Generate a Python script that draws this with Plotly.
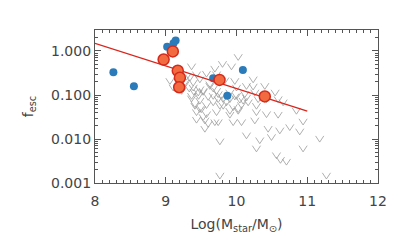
import plotly.graph_objects as go
import numpy as np

# Upper limits (gray V markers)
lim_x = [9.059, 9.341, 9.365, 9.294, 9.435, 9.576, 9.694, 9.802, 9.929, 10.024,
         9.482, 9.718, 9.835, 9.976, 10.235, 10.141, 10.235, 9.271, 9.332, 9.398,
         9.464, 9.529, 9.600, 9.671, 9.741, 9.812, 9.906, 9.976, 10.047, 10.118,
         9.482, 9.365, 9.412, 9.576, 9.671, 9.765, 9.859, 9.953, 10.165, 10.282,
         10.424, 10.546, 10.659, 10.847, 10.588, 10.424, 10.282, 10.024, 9.906, 9.718,
         9.576, 9.435, 9.600, 9.741, 9.953, 10.071, 10.259, 10.753, 10.612, 10.894,
         10.941, 10.447, 10.494, 10.141, 10.329, 10.282, 9.765, 11.176, 10.941, 10.565,
         10.621, 10.706, 9.765, 11.271, 9.553, 10.0, 9.624, 9.388, 9.224, 9.482,
         9.741, 9.906, 10.071, 9.506, 9.671, 10.306, 10.4, 10.588, 9.106,
         9.271, 9.388, 9.459, 9.365, 9.529, 9.624, 9.718, 9.788, 10.0, 10.094,
         10.141, 10.259, 9.412, 9.482, 9.812, 9.906, 10.024, 9.553, 9.694, 9.435,
         9.529, 10.376]
lim_y = [0.205, 0.243, 0.44, 0.256, 0.29, 0.30, 0.39, 0.50, 0.44, 0.72,
         0.223, 0.29, 0.212, 0.205, 0.223, 0.158, 0.153, 0.172, 0.138, 0.116,
         0.094, 0.116, 0.089, 0.138, 0.103, 0.079, 0.112, 0.091, 0.077, 0.103,
         0.073, 0.082, 0.056, 0.058, 0.067, 0.056, 0.067, 0.052, 0.067, 0.056,
         0.079, 0.112, 0.067, 0.043, 0.035, 0.036, 0.040, 0.043, 0.035, 0.040,
         0.036, 0.027, 0.0217, 0.0237, 0.0237, 0.0237, 0.026, 0.0183, 0.0154, 0.0146,
         0.0245, 0.0168, 0.0109, 0.0119, 0.0092, 0.0060, 0.0087, 0.0100, 0.0060, 0.0042,
         0.0033, 0.0030, 0.00145, 0.00145, 0.0168, 0.145, 0.172, 0.188, 0.122, 0.133,
         0.079, 0.079, 0.058, 0.047, 0.094, 0.079, 0.158, 0.079, 0.145,
         0.188, 0.145, 0.112, 0.094, 0.122, 0.158, 0.122, 0.094, 0.094, 0.073,
         0.086, 0.112, 0.061, 0.047, 0.056, 0.043, 0.047, 0.026, 0.0237, 0.040,
         0.031, 0.094]

# Detections
blue_x = [8.26, 8.55, 9.02, 9.11, 9.14, 9.67, 9.87, 10.09]
blue_y = [0.33, 0.158, 1.25, 1.49, 1.74, 0.24, 0.096, 0.37]
red_x = [8.97, 9.10, 9.17, 9.20, 9.19, 9.76, 10.40]
red_y = [0.64, 0.98, 0.355, 0.247, 0.15, 0.22, 0.093]

# Fit line
fit_x = [8.0, 11.0]
fit_y = [1.49, 0.043]

x_ticks = [8, 9, 10, 11, 12]
y_ticks = [0.001, 0.01, 0.1, 1.0]
y_ticktext = ["0.001", "0.010", "0.100", "1.000"]

# Build V glyph paths around each limit point
dx = 0.058
dlog = 0.07
vx, vy = [], []
for x, y in zip(lim_x, lim_y):
    vx += [x - dx, x, x + dx, None]
    vy += [y * 10 ** dlog, y / 10 ** dlog, y * 10 ** dlog, None]

fig = go.Figure()
fig.add_trace(go.Scatter(x=vx, y=vy, mode="lines",
                         line=dict(color="#9a9a9a", width=0.8),
                         hoverinfo="skip", showlegend=False))
fig.add_trace(go.Scatter(x=blue_x, y=blue_y, mode="markers",
                         marker=dict(color="#2b7bba", size=8, line=dict(width=0)),
                         showlegend=False))
fig.add_trace(go.Scatter(x=fit_x, y=fit_y, mode="lines",
                         line=dict(color="#d9261c", width=1.3), showlegend=False))
fig.add_trace(go.Scatter(x=red_x, y=red_y, mode="markers",
                         marker=dict(color="#f26a3f", size=11,
                                     line=dict(color="#d42a1c", width=1.5)),
                         showlegend=False))

axis_common = dict(showline=True, linecolor="#555", linewidth=1.2, mirror="allticks",
                   ticks="inside", tickcolor="#555", showgrid=False, zeroline=False,
                   automargin=False,
                   tickfont=dict(family="DejaVu Sans", size=14, color="#444"))

fig.update_xaxes(range=[8, 12], tickvals=x_ticks, ticklen=6, ticklabelstandoff=5,
                 minor=dict(ticks="inside", ticklen=3, dtick=0.1, tickcolor="#555"),
                 title=dict(text="Log(M<sub>star</sub>/M<sub>⊙</sub>)",
                            font=dict(family="DejaVu Sans", size=14, color="#444"),
                            standoff=11),
                 **axis_common)
fig.update_yaxes(type="log", range=[-3, np.log10(3.0)], tickvals=y_ticks,
                 ticktext=y_ticktext, ticklen=6,
                 minor=dict(ticks="inside", ticklen=3, dtick="D1", tickcolor="#555"),
                 title=dict(text="f<sub>esc</sub>",
                            font=dict(family="DejaVu Sans", size=14, color="#444"),
                            standoff=14),
                 **axis_common)

# page body has an 8px default margin, so offsets compensate for it
fig.update_layout(width=407, height=244,
                  margin=dict(l=87, r=37, t=22, b=69),
                  paper_bgcolor="white", plot_bgcolor="white",
                  showlegend=False)

fig.write_html("out.html")
